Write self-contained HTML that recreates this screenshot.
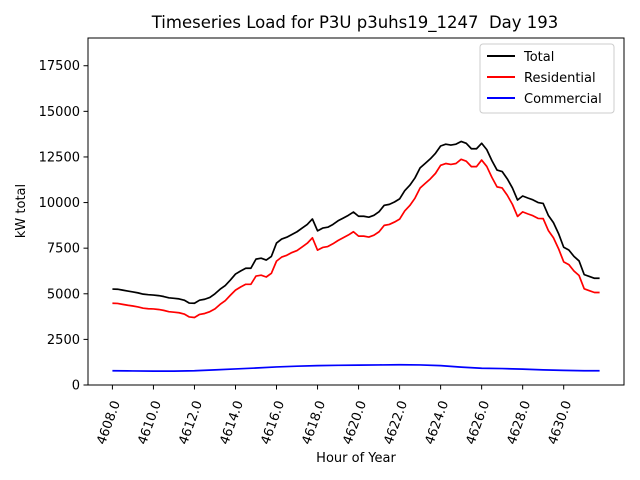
<!DOCTYPE html>
<html><head><meta charset="utf-8"><style>
body{margin:0;background:#fff}
svg{display:block;font-family:"DejaVu Sans","Liberation Sans",sans-serif}
</style></head><body>
<svg id="chart" width="640" height="480" viewBox="0 0 640 480">
<rect width="640" height="480" fill="#fff"/>
<text x="355" y="28" font-size="16.5" text-anchor="middle">Timeseries Load for P3U p3uhs19_1247&#160; Day 193</text>
<g id="plot"></g>
<rect x="88" y="38" width="536" height="347" fill="none" stroke="#000" stroke-width="1"/>
<text x="356" y="462" font-size="13" text-anchor="middle">Hour of Year</text>
<text transform="translate(25,211) rotate(-90)" font-size="13" text-anchor="middle">kW total</text>
<g>
<rect x="480" y="44" width="134" height="69" fill="#fff" stroke="#ccc" rx="3"/>
<g><line x1="487" y1="56" x2="515" y2="56" stroke="#000" stroke-width="2"/><text x="524" y="61" font-size="13">Total</text></g>
<g><line x1="487" y1="77" x2="515" y2="77" stroke="#f00" stroke-width="2"/><text x="524" y="82" font-size="13">Residential</text></g>
<g><line x1="487" y1="98" x2="515" y2="98" stroke="#00f" stroke-width="2"/><text x="524" y="103" font-size="13">Commercial</text></g>
</g>
</svg>
<script>
const startHour = 4608;
const totalLoad = [5260,5250,5200,5150,5100,5050,4980,4950,4930,4900,4850,4780,4750,4720,4650,4490,4480,4650,4700,4800,5000,5250,5450,5750,6080,6250,6400,6400,6900,6950,6850,7050,7780,8000,8100,8250,8400,8600,8800,9100,8450,8600,8650,8800,9000,9150,9300,9480,9250,9250,9200,9300,9500,9850,9900,10030,10200,10650,10950,11350,11900,12150,12400,12700,13100,13200,13150,13200,13350,13250,12950,12950,13250,12900,12300,11780,11700,11300,10800,10140,10360,10250,10150,10000,9950,9300,8900,8300,7550,7400,7050,6800,6050,5950,5850,5850];
const residentialLoad = [4480,4470,4420,4370,4330,4280,4210,4180,4170,4140,4090,4020,3990,3960,3890,3730,3700,3870,3920,4020,4170,4420,4620,4920,5200,5370,5520,5520,5970,6020,5920,6120,6790,7010,7110,7260,7370,7570,7770,8070,7390,7540,7590,7740,7920,8070,8220,8400,8160,8160,8110,8210,8400,8750,8800,8930,9090,9540,9840,10240,10800,11050,11300,11600,12040,12140,12090,12140,12370,12270,11970,11970,12330,11980,11380,10860,10800,10400,9900,9240,9490,9380,9280,9130,9120,8470,8070,7470,6750,6600,6250,6000,5270,5170,5070,5070];
const commercialHours = [4608,4609,4610,4611,4612,4613,4614,4615,4616,4617,4618,4619,4620,4621,4622,4623,4624,4625,4626,4627,4628,4629,4630,4631,4631.75];
const commercialLoad = [780,770,760,760,780,830,880,930,990,1030,1060,1080,1090,1100,1110,1100,1060,980,920,900,870,830,800,780,780];
const xTicks = [4608,4610,4612,4614,4616,4618,4620,4622,4624,4626,4628,4630];
const yTicks = [0,2500,5000,7500,10000,12500,15000,17500];

const X0=88,X1=624,Y0=385,Y1=38;
const xMin=4606.81,xMax=4632.94,yMin=0,yMax=19020;
function xs(v){return X0+(v-xMin)/(xMax-xMin)*(X1-X0);}
function ys(v){return Y0-(v-yMin)/(yMax-yMin)*(Y0-Y1);}
const NS="http://www.w3.org/2000/svg";
const svg=document.getElementById('chart');
const plot=document.getElementById('plot');
function mk(tag,attrs,parent){const e=document.createElementNS(NS,tag);for(const k in attrs)e.setAttribute(k,attrs[k]);parent.appendChild(e);return e;}

xTicks.forEach(t=>{
  const x=xs(t);
  const g=mk('g',{},svg);
  
  
  mk('line',{x1:x,y1:385,x2:x,y2:389.5,stroke:'#000'},g);
  const tx=mk('text',{x:0,y:0,'font-size':13,'text-anchor':'middle',transform:'translate('+x+',424) rotate(-70)'},g);
  tx.textContent=t.toFixed(1);
});
yTicks.forEach(t=>{
  const y=ys(t);
  const g=mk('g',{},svg);
  
  
  mk('line',{x1:83.5,y1:y,x2:88,y2:y,stroke:'#000'},g);
  const tx=mk('text',{x:80,y:y+4.5,'font-size':13,'text-anchor':'end'},g);
  tx.textContent=String(t);
});
function series(vals,xsArr,color,name){
  const pts=vals.map((v,i)=>xs(xsArr?xsArr[i]:startHour+i/4).toFixed(2)+','+ys(v).toFixed(2)).join(' ');
  const p=mk('polyline',{points:pts,fill:'none',stroke:color,'stroke-width':1.7,'stroke-linejoin':'round'},plot);
  
  
}
series(totalLoad,null,'#000','total-line');
series(residentialLoad,null,'#f00','residential-line');
series(commercialLoad,commercialHours,'#00f','commercial-line');
</script>
</body></html>
